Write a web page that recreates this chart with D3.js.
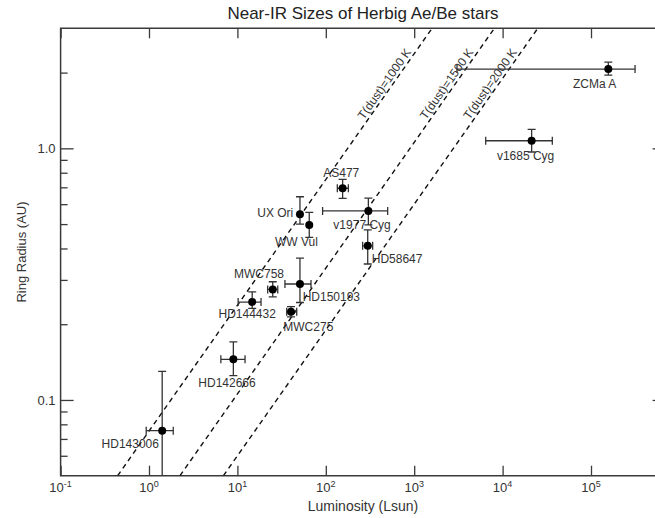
<!DOCTYPE html>
<html>
<head>
<meta charset="utf-8">
<script src="https://cdn.jsdelivr.net/npm/d3@7"></script>
<style>
  html, body { margin: 0; padding: 0; background: #fff; }
  svg { display: block; }
  text { font-family: "Liberation Sans", Arial, Helvetica, sans-serif; }
</style>
</head>
<body>
<svg id="chart" width="655" height="518"></svg>
<script>
// ---------------- data ----------------
const stars   = ["HD143006","HD142666","HD144432","MWC758","MWC275","HD150193","UX Ori","WW Vul","AS477","v1977 Cyg","HD58647","v1685 Cyg","ZCMa A"];
const lum     = [1.41, 9.0, 14.7, 25.1, 40.4, 51, 51, 65, 155, 303, 298, 21300, 157000];
const lumLo   = [0.93, 6.5, 10.2, 22.0, 36.1, 34.5, 51, 65, 135, 92, 261, 6440, 3050];
const lumHi   = [1.88, 12.2, 18.5, 28.6, 46.9, 68, 51, 65, 180, 501, 339, 36500, 315000];
const radius  = [0.0755, 0.145, 0.245, 0.275, 0.224, 0.289, 0.547, 0.496, 0.694, 0.564, 0.41, 1.072, 2.066];
const radLo   = [0.03, 0.125, 0.231, 0.257, 0.214, 0.244, 0.50, 0.443, 0.633, 0.496, 0.347, 0.967, 1.955];
const radHi   = [0.13, 0.17, 0.269, 0.295, 0.235, 0.366, 0.642, 0.557, 0.753, 0.634, 0.474, 1.19, 2.20];

// dust sublimation reference lines: end points [L, R]
const dustLabels = ["T(dust)=1000 K", "T(dust)=1500 K", "T(dust)=2000 K"];
const dustLines = [
  [[0.442, 0.05], [1592, 3.0]],
  [[2.24, 0.05], [8070, 3.0]],
  [[6.95, 0.05], [25000, 3.0]]
];

const xTickValues = [0.1, 1, 10, 100, 1000, 1e4, 1e5];
const xTickExp    = ["-1", "0", "1", "2", "3", "4", "5"];
const yMajorTicks = [0.1, 1.0];
const yMajorLabels = ["0.1", "1.0"];
const yMinorTicks = [0.06, 0.07, 0.08, 0.09, 0.2, 0.3, 0.4, 0.5, 0.6, 0.7, 0.8, 0.9, 2.0];

const titleText = "Near-IR Sizes of Herbig Ae/Be stars";
const xTitle = "Luminosity (Lsun)";
const yTitle = "Ring Radius (AU)";

// ---------------- layout ----------------
const pLeft = 60.6, pRight = 664.6, pTop = 28.3, pBottom = 475.7;
// label offsets (px) from each marker to the start of its label baseline
const labelOffsets = [
  [-60.6, 17.8], [-35, 27.7], [-33.7, 16.2], [-38.7, -11.3], [-7.7, 19.3],
  [2.7, 17], [-42.7, 2.7], [-34.3, 21.5], [-19.4, -11.3], [-35, 18.5],
  [4, 16.8], [-34.7, 19.3], [-35.3, 19]
];

const svg = d3.select("#chart");
const x = d3.scaleLog().domain([0.1, 6.8e5]).range([pLeft, pRight]);
const y = d3.scaleLog().domain([0.05, 3]).range([pBottom, pTop]);

const axisColor = "#3a3a3a";
const textColor = "#333";

svg.append("defs").append("clipPath").attr("id", "plotclip")
  .append("rect").attr("x", pLeft).attr("y", pTop)
  .attr("width", pRight - pLeft).attr("height", pBottom - pTop);

// ---------------- axes ----------------
const gx = svg.append("g").attr("transform", `translate(0,${pBottom})`)
  .call(d3.axisBottom(x).tickValues(xTickValues).tickSize(-10).tickFormat(""));
const gxTop = svg.append("g").attr("transform", `translate(0,${pTop})`)
  .call(d3.axisTop(x).tickValues(xTickValues).tickSize(-10).tickFormat(""));
const gyMaj = svg.append("g").attr("transform", `translate(${pLeft},0)`)
  .call(d3.axisLeft(y).tickValues(yMajorTicks).tickSize(-13).tickFormat(""));
const gyMin = svg.append("g").attr("transform", `translate(${pLeft},0)`)
  .call(d3.axisLeft(y).tickValues(yMinorTicks).tickSize(-7).tickFormat(""));
const gyR = svg.append("g").attr("transform", `translate(${pRight},0)`)
  .call(d3.axisRight(y).tickValues(yMajorTicks).tickSize(-12).tickFormat(""));
[gx, gxTop, gyMaj, gyMin, gyR].forEach(g => {
  g.select(".domain").remove();
  g.selectAll(".tick line").attr("stroke", axisColor).attr("stroke-width", 1.3);
});

// frame
svg.append("path")
  .attr("d", `M${pRight},${pTop}H${pLeft}V${pBottom}H${pRight}`)
  .attr("fill", "none").attr("stroke", axisColor).attr("stroke-width", 1.5);

// x tick labels with superscripts
const xl = svg.append("g").selectAll("text").data(xTickValues).join("text")
  .attr("x", d => x(d)).attr("y", 492)
  .attr("text-anchor", "middle").attr("fill", textColor).attr("font-size", 13);
xl.append("tspan").text("10");
xl.append("tspan").attr("dy", -5).attr("font-size", 9).text((d, i) => xTickExp[i]);

// y tick labels
svg.append("g").selectAll("text").data(yMajorTicks).join("text")
  .attr("x", pLeft - 5).attr("y", d => y(d)).attr("dy", "0.35em")
  .attr("text-anchor", "end").attr("fill", textColor).attr("font-size", 13)
  .text((d, i) => yMajorLabels[i]);

// titles
svg.append("text").attr("x", 363).attr("y", 19).attr("text-anchor", "middle")
  .attr("font-size", 17).attr("fill", "#222").text(titleText);
svg.append("text").attr("x", 363).attr("y", 511).attr("text-anchor", "middle")
  .attr("font-size", 14).attr("fill", textColor).text(xTitle);
svg.append("text").attr("transform", `translate(26,252) rotate(-90)`).attr("text-anchor", "middle")
  .attr("font-size", 13).attr("fill", textColor).text(yTitle);

// ---------------- dust lines ----------------
const plot = svg.append("g").attr("clip-path", "url(#plotclip)");
const line = d3.line().x(d => x(d[0])).y(d => y(d[1]));
plot.selectAll("path.dust").data(dustLines).join("path").attr("class", "dust")
  .attr("d", line).attr("fill", "none").attr("stroke", "#111")
  .attr("stroke-width", 1.4).attr("stroke-dasharray", "5,4");

// labels along lines, ending near the top of the frame
dustLines.forEach((seg, i) => {
  const x0 = x(seg[0][0]), y0 = y(seg[0][1]), x1 = x(seg[1][0]), y1 = y(seg[1][1]);
  const ang = Math.atan2(y1 - y0, x1 - x0) * 180 / Math.PI;
  const yEnd = 54;
  const t = (yEnd - y0) / (y1 - y0);
  const xe = x0 + t * (x1 - x0);
  svg.append("text")
    .attr("transform", `translate(${xe},${yEnd}) rotate(${ang})`)
    .attr("dy", -3).attr("text-anchor", "end")
    .attr("font-size", 12).attr("fill", textColor)
    .text(dustLabels[i]);
});

// ---------------- error bars & points ----------------
const idx = d3.range(stars.length);
const eb = plot.append("g").attr("stroke", "#333").attr("stroke-width", 1.3).attr("fill", "none");
const cap = 4;
idx.forEach(i => {
  const cx = x(lum[i]), cy = y(radius[i]);
  const yt = y(radHi[i]), yb = y(radLo[i]);
  eb.append("line").attr("x1", cx).attr("x2", cx).attr("y1", yt).attr("y2", yb);
  eb.append("line").attr("x1", cx - cap).attr("x2", cx + cap).attr("y1", yt).attr("y2", yt);
  eb.append("line").attr("x1", cx - cap).attr("x2", cx + cap).attr("y1", yb).attr("y2", yb);
  if (lumHi[i] > lumLo[i]) {
    const xl0 = x(lumLo[i]), xr0 = x(lumHi[i]);
    eb.append("line").attr("x1", xl0).attr("x2", xr0).attr("y1", cy).attr("y2", cy);
    eb.append("line").attr("x1", xl0).attr("x2", xl0).attr("y1", cy - cap).attr("y2", cy + cap);
    eb.append("line").attr("x1", xr0).attr("x2", xr0).attr("y1", cy - cap).attr("y2", cy + cap);
  }
});
plot.append("g").selectAll("circle").data(idx).join("circle")
  .attr("cx", i => x(lum[i])).attr("cy", i => y(radius[i])).attr("r", 4)
  .attr("fill", "#000");

// star labels
svg.append("g").selectAll("text").data(idx).join("text")
  .attr("x", i => x(lum[i]) + labelOffsets[i][0])
  .attr("y", i => y(radius[i]) + labelOffsets[i][1])
  .attr("font-size", 12).attr("fill", textColor)
  .text(i => stars[i]);
</script>
</body>
</html>
